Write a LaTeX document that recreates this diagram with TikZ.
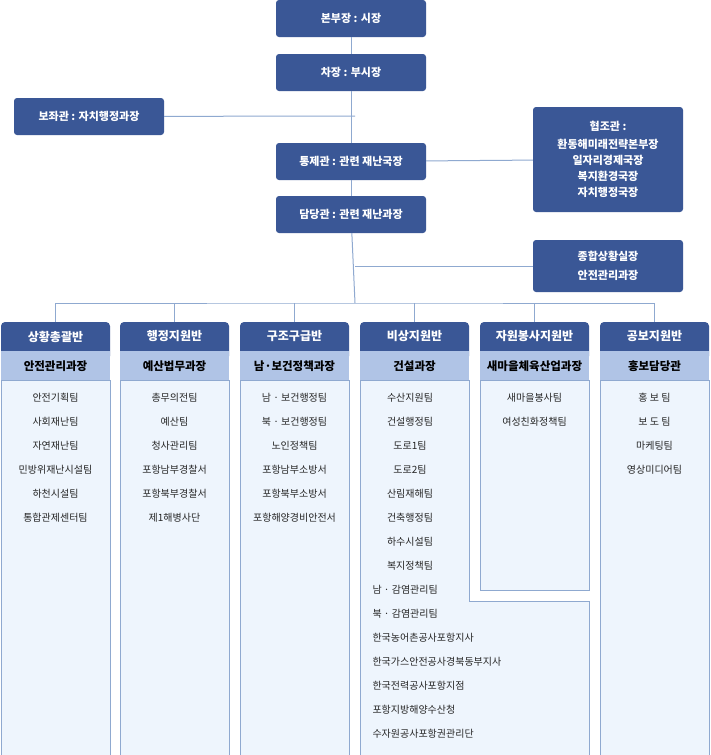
\documentclass[tikz,border=0pt]{standalone}
\usepackage{fontspec}
\setmainfont{Noto Sans CJK KR}
\definecolor{dk}{HTML}{3A5796}
\definecolor{sb}{HTML}{B0C4E6}
\definecolor{bd}{HTML}{EEF5FD}
\definecolor{ln}{HTML}{8FA9D0}
\begin{document}
\begin{tikzpicture}[x=1pt,y=-1pt,
  top/.style={fill=dk,rounded corners=3pt,text=white,font=\fontsize{11}{15}\selectfont\bfseries,minimum width=150pt,minimum height=37pt,align=center,inner sep=0pt},
  hd/.style={text=white,font=\fontsize{12}{14}\selectfont\bfseries},
  sh/.style={text=black,font=\fontsize{11.5}{14}\selectfont\bfseries},
  it/.style={text=black!85,font=\fontsize{10}{12}\selectfont},
  con/.style={draw=ln,line width=1pt}]
\useasboundingbox[fill=white] (0,0) rectangle (710,755);
% top boxes
\node[top] (b1) at (351,18.5) {본부장 : 시장};
\node[top] (b2) at (351,72.5) {차장 : 부시장};
\node[top] (b3) at (89,116.5) {보좌관 : 자치행정과장};
\node[top] (b4) at (351,161.5) {통제관 : 관련 재난국장};
\node[top] (b5) at (351,214.5) {담당관 : 관련 재난과장};
\node[top,minimum height=105pt,font=\fontsize{11}{16}\selectfont\bfseries] (b6) at (608,159.5) {협조관 :\\[2pt]환동해미래전략본부장\\일자리경제국장\\복지환경국장\\자치행정국장};
\node[top,minimum height=52pt,font=\fontsize{11}{19}\selectfont\bfseries] (b7) at (608,266) {종합상황실장\\안전관리과장};
\coordinate (bus) at (355,303);
\coordinate (j1) at (355,116);
\coordinate (j2) at (355,266);
\draw[con] (b1) -- (b2); \draw[con] (b2) -- (b4); \draw[con] (b4) -- (b5);
\draw[con] (b5) -- (bus);
\draw[con] (b3) -- (j1); \draw[con] (b4) -- (b6); \draw[con] (j2) -- (b7);
% columns
\foreach \L/\n in {1/c1,120/c2,240/c3,360/c4,480/c5,600/c6}{
  \fill[dk,rounded corners=4pt] (\L,322) rectangle (\L+109,360);
  \fill[sb] (\L,351) rectangle (\L+109,380);
  \coordinate (\n) at (\L+54.5,322);
}
\foreach \L in {1,120,240,600}{
  \filldraw[fill=bd,draw=ln,line width=1pt] (\L,380) rectangle (\L+109,755);
}
\filldraw[fill=bd,draw=ln,line width=1pt] (360,380) -- (469,380) -- (469,601) -- (589,601) -- (589,755) -- (360,755) -- cycle;
\filldraw[fill=bd,draw=ln,line width=1pt] (480,380) rectangle (589,590);
\draw[con] (c1) |- (bus) -| (c6);
\foreach \n in {c2,c3,c4,c5}{\draw[con] (\n) -- (\n |- bus);}
% headers
\foreach \L/\h/\s in {1/상황총괄반/안전관리과장,120/행정지원반/예산법무과장,240/구조구급반/남·보건정책과장,360/비상지원반/건설과장,480/자원봉사지원반/새마을체육산업과장,600/공보지원반/홍보담당관}{
  \node[hd] at (\L+54.5,336.5) {\h};
  \node[sh] at (\L+54.5,366) {\s};
}
% items
\foreach \t [count=\i] in {안전기획팀,사회재난팀,자연재난팀,민방위재난시설팀,하천시설팀,통합관제센터팀}
  \node[it] at (55.5,374+24*\i) {\t};
\foreach \t [count=\i] in {총무의전팀,예산팀,청사관리팀,포항남부경찰서,포항북부경찰서,제1해병사단}
  \node[it] at (174.5,374+24*\i) {\t};
\foreach \t [count=\i] in {남 · 보건행정팀,북 · 보건행정팀,노인정책팀,포항남부소방서,포항북부소방서,포항해양경비안전서}
  \node[it] at (294.5,374+24*\i) {\t};
\foreach \t [count=\i] in {수산지원팀,건설행정팀,도로1팀,도로2팀,산림재해팀,건축행정팀,하수시설팀,복지정책팀}
  \node[it] at (410,374+24*\i) {\t};
\foreach \t [count=\i] in {남 · 감염관리팀,북 · 감염관리팀,한국농어촌공사포항지사,한국가스안전공사경북동부지사,한국전력공사포항지점,포항지방해양수산청,수자원공사포항권관리단}
  \node[it,anchor=west] at (369,566+24*\i) {\t};
\foreach \t [count=\i] in {새마을봉사팀,여성친화정책팀}
  \node[it] at (534.5,374+24*\i) {\t};
\foreach \t [count=\i] in {홍 보 팀,보 도 팀,마케팅팀,영상미디어팀}
  \node[it] at (654.5,374+24*\i) {\t};
\end{tikzpicture}
\end{document}
